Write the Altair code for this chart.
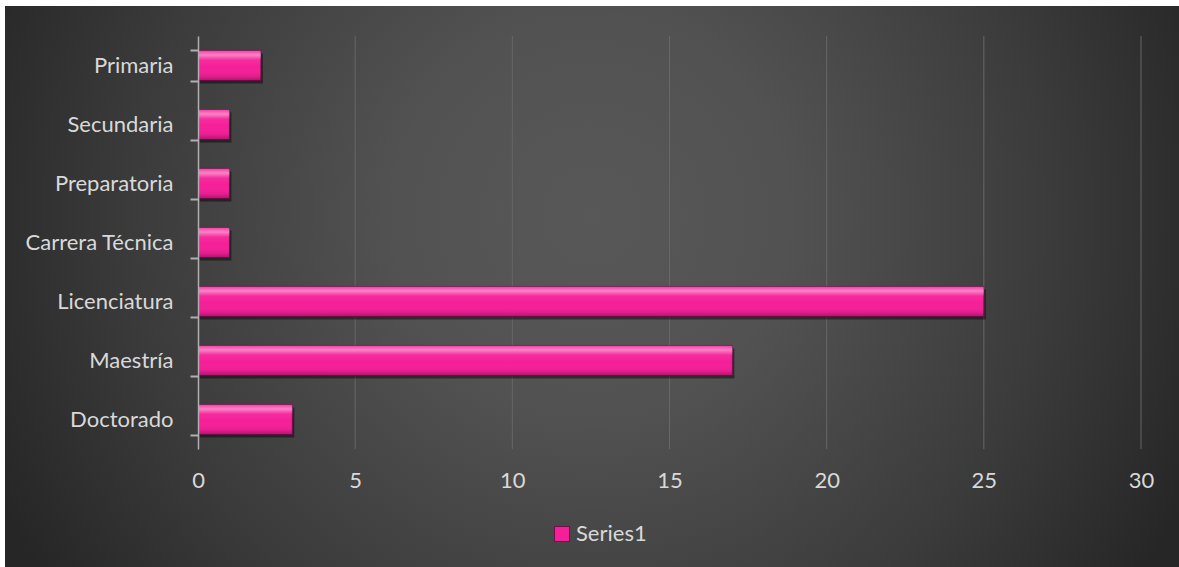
import altair as alt
import pandas as pd

# Education level counts
categories = ["Primaria", "Secundaria", "Preparatoria", "Carrera Técnica",
              "Licenciatura", "Maestría", "Doctorado"]
values = [2, 1, 1, 1, 25, 17, 3]
series_name = "Series1"
x_ticks = [0, 5, 10, 15, 20, 25, 30]

df = pd.DataFrame({"nivel": categories, "valor": values, "serie": series_name})
grid_df = pd.DataFrame({"valor": x_ticks[1:]})

W, H = 943, 413
PAD = {"left": 198, "top": 36, "right": 38, "bottom": 118}
FONT = "Lato"
FS = 22
TEXT = "#d9d9d9"

x_enc = alt.X(
    "valor:Q",
    scale=alt.Scale(domain=[0, 30], nice=False),
    axis=alt.Axis(
        values=x_ticks, title=None, domain=False, ticks=False, grid=False,
        labelPadding=21, labelFontSize=FS, labelColor=TEXT,
        labelFont=FONT, labelFlush=False, zindex=1,
    ),
)

# Dark radial backdrop behind the whole chart
backdrop = alt.Chart(pd.DataFrame({"k": [0]})).mark_rect(
    fill=alt.RadialGradient(
        gradient="radial",
        x1=0.5, y1=0.44, r1=0.0,
        x2=0.5, y2=0.44, r2=0.56,
        stops=[
            alt.GradientStop(color="#585858", offset=0),
            alt.GradientStop(color="#525252", offset=0.3),
            alt.GradientStop(color="#3b3b3b", offset=0.7),
            alt.GradientStop(color="#262626", offset=1),
        ],
    )
).encode(
    x=alt.value(-193), x2=alt.value(981),
    y=alt.value(-30), y2=alt.value(531),
)

# Vertical gridlines at the major x ticks
grid = alt.Chart(grid_df).mark_rule(color="#676767", strokeWidth=1).encode(
    x=x_enc, y=alt.value(0), y2=alt.value(H),
)

base = alt.Chart(df).encode(
    y=alt.Y(
        "nivel:N",
        sort=categories,
        scale=alt.Scale(paddingInner=0.49, paddingOuter=0.245),
        axis=alt.Axis(
            title=None, tickBand="extent", tickSize=8, tickColor="#b0b0b0",
            tickWidth=2, domainColor="#b0b0b0", domainWidth=1.5,
            labelPadding=17, labelFontSize=FS, labelColor=TEXT,
            labelFont=FONT, grid=False, zindex=1,
        ),
    ),
    x=x_enc,
)

# Soft drop shadow under each bar
shadow = base.mark_bar(color="#000000", opacity=0.45, yOffset=3, xOffset=2)

# Main pink bars carrying the legend
bars = base.mark_bar(stroke="#6b1048", strokeWidth=0.8).encode(
    color=alt.Color(
        "serie:N",
        scale=alt.Scale(range=["#f51f98"]),
        legend=alt.Legend(
            title=None, orient="none", legendX=353, legendY=487,
            symbolType="square", symbolSize=225, labelOffset=3,
            symbolStrokeColor="#6b1048", symbolStrokeWidth=1,
            labelFontSize=FS, labelColor=TEXT, labelFont=FONT,
        ),
    )
)

# Bevel highlight over the bars
shine = base.mark_bar(
    fill=alt.LinearGradient(
        gradient="linear", x1=0, y1=0, x2=0, y2=1,
        stops=[
            alt.GradientStop(color="rgba(255,255,255,0.12)", offset=0),
            alt.GradientStop(color="rgba(255,255,255,0.45)", offset=0.15),
            alt.GradientStop(color="rgba(255,255,255,0.06)", offset=0.32),
            alt.GradientStop(color="rgba(255,255,255,0)", offset=0.55),
            alt.GradientStop(color="rgba(0,0,0,0.06)", offset=0.85),
            alt.GradientStop(color="rgba(0,0,0,0.3)", offset=1),
        ],
    )
)

chart = alt.layer(backdrop, grid, shadow, bars, shine).properties(
    width=W, height=H, padding=PAD,
    autosize=alt.AutoSizeParams(type="none"),
    background="white",
).configure_view(stroke=None)

chart.save("out.html", embed_options={"renderer": "svg", "actions": False})
